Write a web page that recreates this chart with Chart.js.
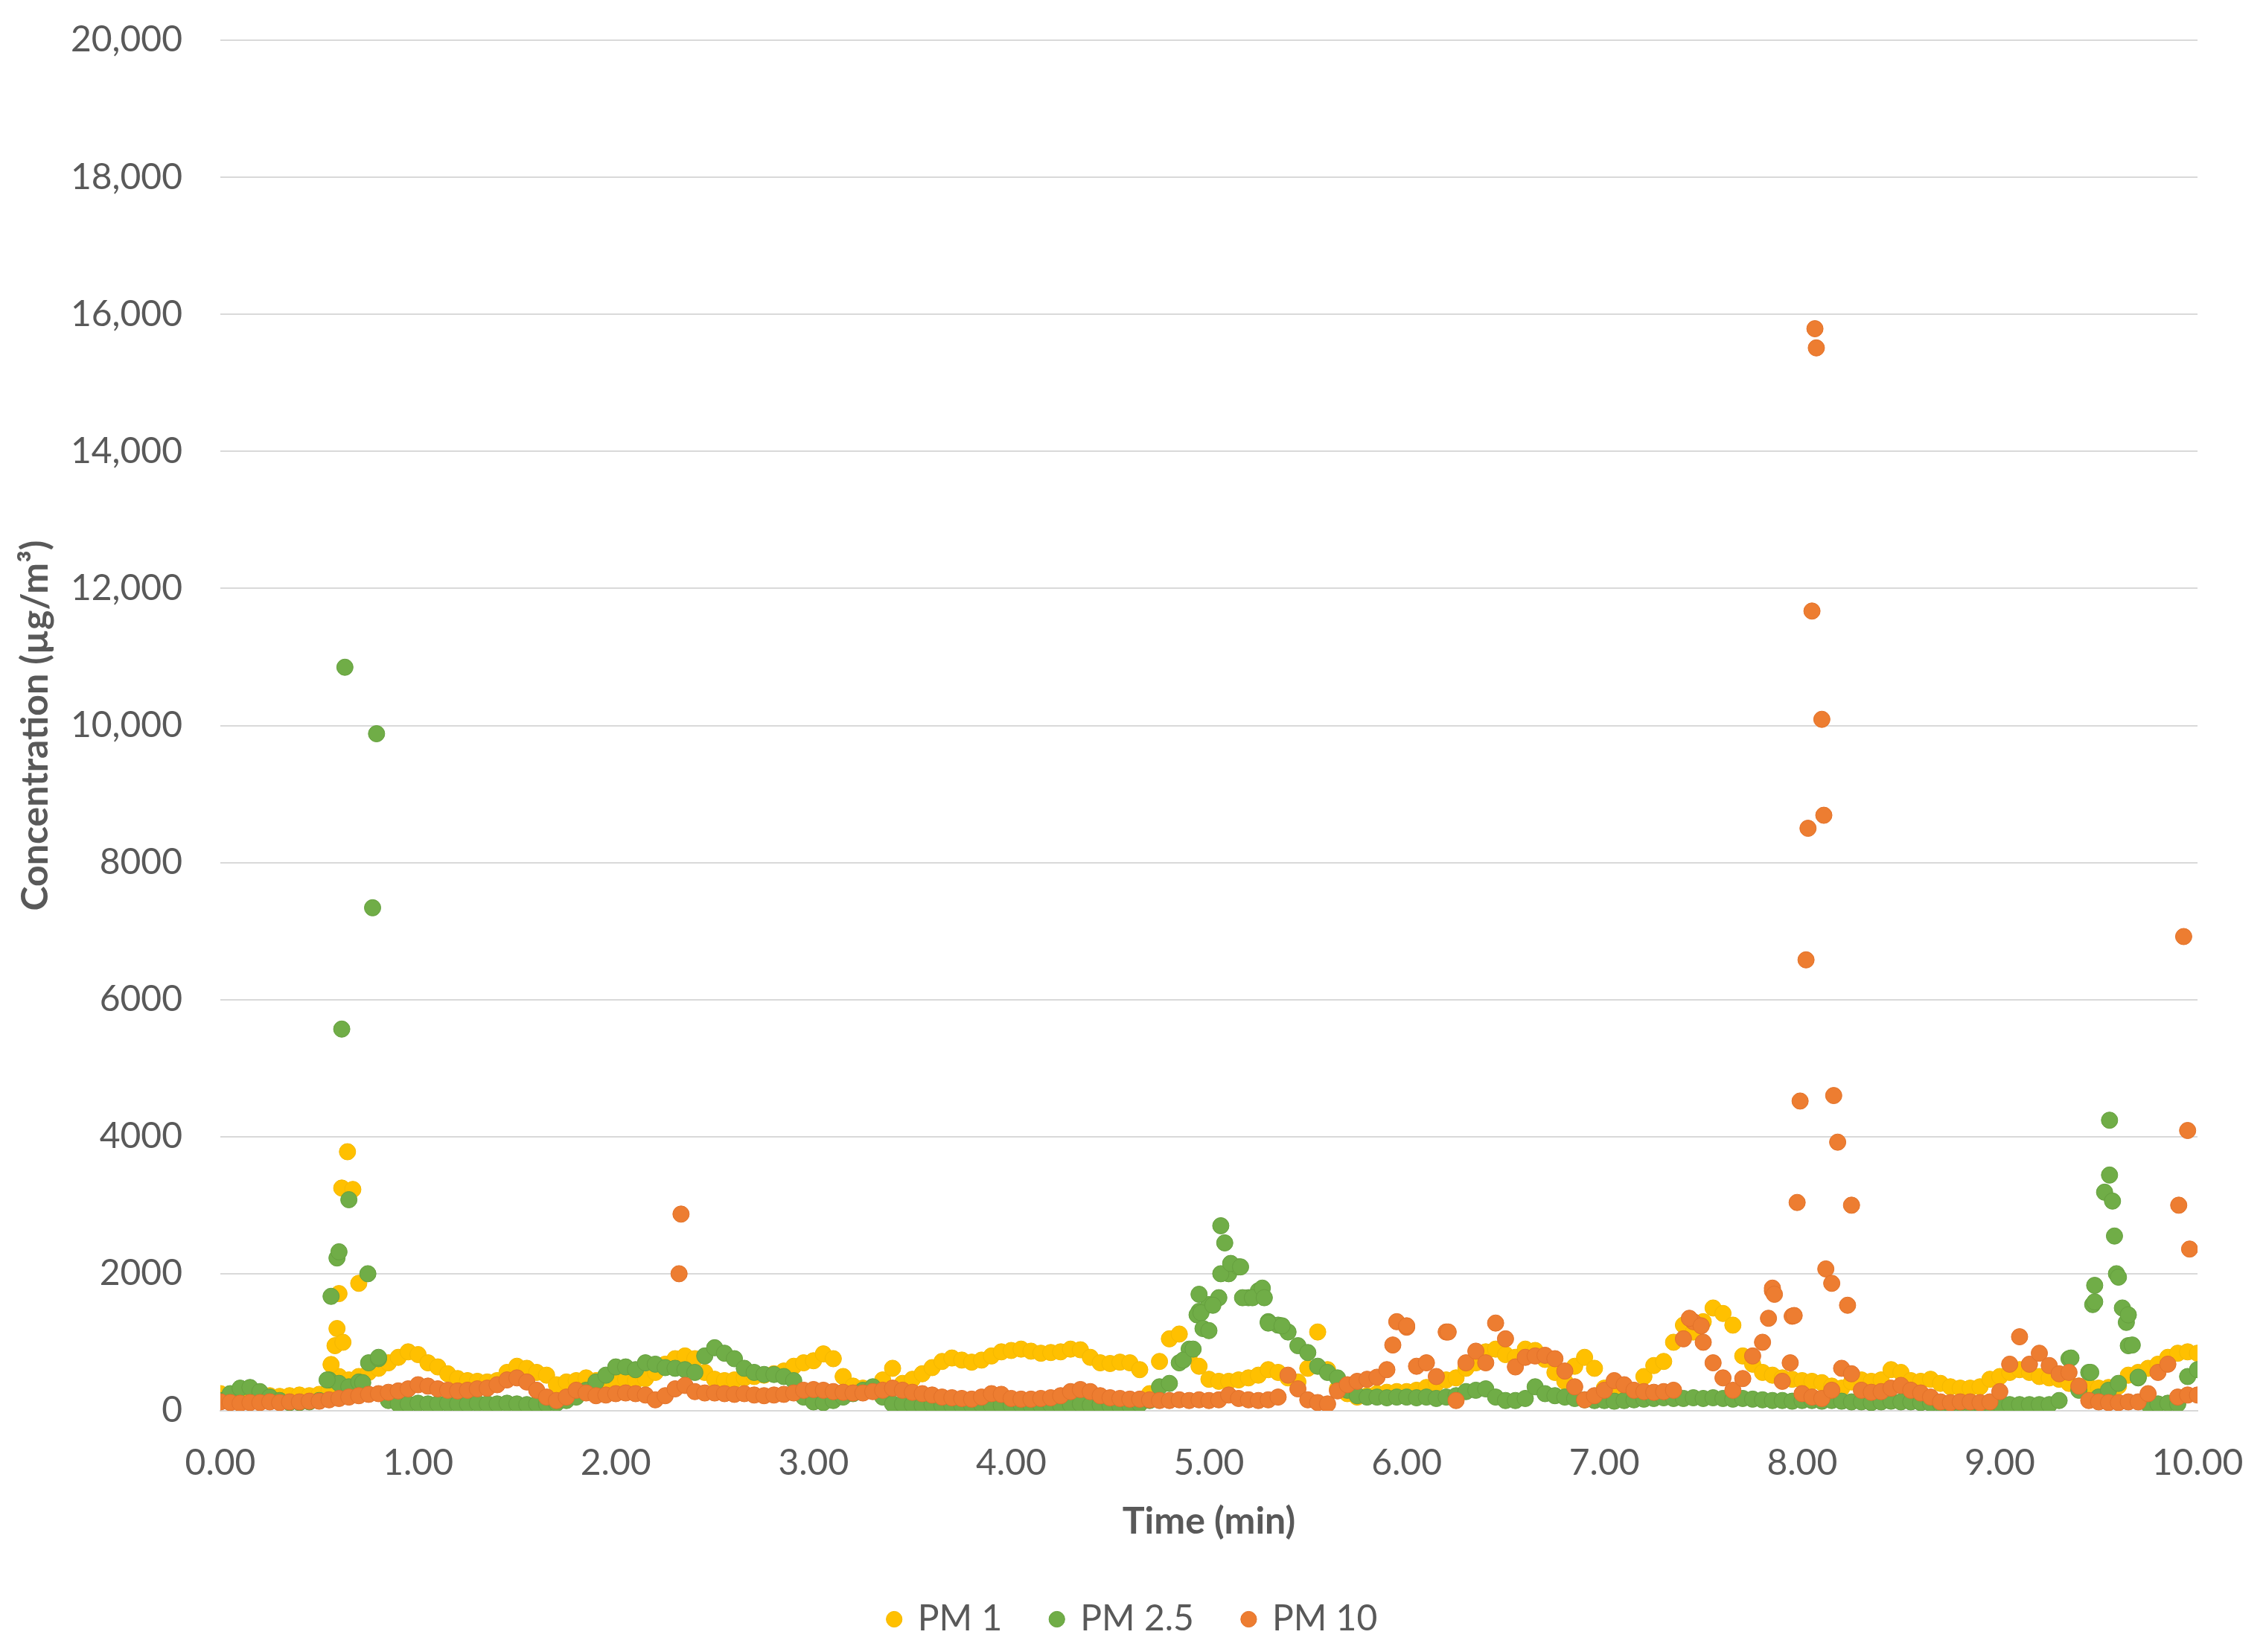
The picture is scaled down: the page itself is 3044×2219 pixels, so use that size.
<!DOCTYPE html>
<html>
<head>
<meta charset="utf-8">
<title>PM concentration</title>
<script src="https://cdn.jsdelivr.net/npm/chart.js@4.4.1/dist/chart.umd.min.js"></script>
<style>
    html, body { margin: 0; padding: 0; background: #ffffff; }
    canvas { display: block; }
</style>
</head>
<body>
<canvas id="pmChart" width="3044" height="2219"></canvas>
<script>
"use strict";

//Tidsaxel (min), ett mätvärde var 0.05 min
const timeMin = [
    0, 0.05, 0.1, 0.15, 0.2, 0.25, 0.3, 0.35, 0.4, 0.45, 0.5, 0.55, 0.6, 0.65, 0.7, 0.75, 0.8, 0.85, 0.9, 0.95,
    1, 1.05, 1.1, 1.15, 1.2, 1.25, 1.3, 1.35, 1.4, 1.45, 1.5, 1.55, 1.6, 1.65, 1.7, 1.75, 1.8, 1.85, 1.9, 1.95,
    2, 2.05, 2.1, 2.15, 2.2, 2.25, 2.3, 2.35, 2.4, 2.45, 2.5, 2.55, 2.6, 2.65, 2.7, 2.75, 2.8, 2.85, 2.9, 2.95,
    3, 3.05, 3.1, 3.15, 3.2, 3.25, 3.3, 3.35, 3.4, 3.45, 3.5, 3.55, 3.6, 3.65, 3.7, 3.75, 3.8, 3.85, 3.9, 3.95,
    4, 4.05, 4.1, 4.15, 4.2, 4.25, 4.3, 4.35, 4.4, 4.45, 4.5, 4.55, 4.6, 4.65, 4.7, 4.75, 4.8, 4.85, 4.9, 4.95,
    5, 5.05, 5.1, 5.15, 5.2, 5.25, 5.3, 5.35, 5.4, 5.45, 5.5, 5.55, 5.6, 5.65, 5.7, 5.75, 5.8, 5.85, 5.9, 5.95,
    6, 6.05, 6.1, 6.15, 6.2, 6.25, 6.3, 6.35, 6.4, 6.45, 6.5, 6.55, 6.6, 6.65, 6.7, 6.75, 6.8, 6.85, 6.9, 6.95,
    7, 7.05, 7.1, 7.15, 7.2, 7.25, 7.3, 7.35, 7.4, 7.45, 7.5, 7.55, 7.6, 7.65, 7.7, 7.75, 7.8, 7.85, 7.9, 7.95,
    8, 8.05, 8.1, 8.15, 8.2, 8.25, 8.3, 8.35, 8.4, 8.45, 8.5, 8.55, 8.6, 8.65, 8.7, 8.75, 8.8, 8.85, 8.9, 8.95,
    9, 9.05, 9.1, 9.15, 9.2, 9.25, 9.3, 9.35, 9.4, 9.45, 9.5, 9.55, 9.6, 9.65, 9.7, 9.75, 9.8, 9.85, 9.9, 9.95,
    10
];

//PM 1 (µg/m3)
const pm1Values = [
    250, 220, 200, 210, 230, 220, 210, 220, 230, 220, 240, 300, 500, 450, 500, 560, 620, 700, 780, 860,
    820, 700, 640, 540, 470, 440, 430, 420, 440, 560, 650, 620, 560, 520, 380, 420, 440, 480, 440, 430,
    440, 460, 440, 470, 560, 680, 760, 800, 760, 560, 460, 440, 450, 480, 500, 520, 540, 580, 650, 700,
    730, 830, 760, 500, 360, 330, 330, 450, 620, 400, 460, 540, 630, 720, 770, 740, 710, 740, 800, 860,
    880, 900, 870, 840, 850, 860, 900, 890, 780, 700, 690, 710, 700, 600, 250, 720, 1050, 1120, 800, 650,
    460, 430, 430, 450, 480, 520, 600, 560, 480, 420, 620, 1150, 600, 320, 250, 200, 220, 250, 270, 280,
    280, 300, 340, 400, 450, 480, 620, 700, 860, 900, 820, 780, 900, 880, 750, 560, 430, 650, 780, 620,
    330, 270, 260, 270, 500, 660, 720, 1000, 1250, 1150, 1300, 1500, 1420, 1250, 800, 680, 560, 520, 480, 460,
    440, 430, 410, 360, 330, 420, 450, 430, 450, 600, 560, 440, 430, 460, 400, 350, 330, 330, 350, 460,
    500, 560, 600, 560, 500, 480, 460, 400, 360, 350, 330, 340, 360, 520, 560, 620, 680, 780, 840, 860,
    840
];

//PM 2.5 (µg/m3)
const pm25Values = [
    150, 250, 330, 340, 280, 200, 150, 120, 120, 130, 150, 450, 400, 350, 420, 700, 760, 150, 100, 100,
    110, 100, 100, 110, 100, 100, 110, 100, 100, 110, 100, 90, 100, 100, 110, 150, 200, 300, 420, 520,
    640, 640, 600, 700, 680, 630, 620, 600, 560, 800, 920, 840, 760, 620, 560, 530, 530, 500, 440, 200,
    130, 120, 150, 200, 250, 300, 350, 200, 100, 100, 90, 80, 90, 80, 80, 80, 80, 90, 80, 80,
    80, 90, 80, 80, 90, 80, 90, 100, 80, 90, 80, 70, 80, 100, 150, 350, 400, 700, 900, 1450,
    1550, 1650, 2000, 2100, 1650, 1750, 1300, 1250, 1150, 950, 850, 650, 560, 480, 300, 220, 200, 200, 190, 200,
    200, 190, 200, 180, 200, 220, 280, 300, 320, 200, 150, 150, 180, 350, 250, 220, 200, 180, 160, 150,
    150, 140, 150, 160, 170, 180, 190, 180, 180, 190, 180, 190, 180, 170, 180, 170, 160, 150, 150, 140,
    150, 150, 140, 150, 140, 130, 130, 120, 130, 140, 130, 130, 120, 110, 100, 100, 110, 100, 100, 100,
    90, 90, 90, 90, 90, 90, 150, 760, 300, 560, 200, 300, 400, 950, 480, 100, 100, 110, 100, 500,
    600
];

//PM 10 (µg/m3)
const pm10Values = [
    130, 120, 110, 120, 120, 130, 120, 130, 130, 140, 140, 160, 180, 200, 220, 240, 250, 270, 290, 320,
    380, 360, 320, 300, 290, 300, 320, 330, 380, 450, 480, 420, 300, 200, 150, 200, 300, 260, 220, 230,
    250, 260, 250, 230, 160, 220, 320, 370, 280, 260, 260, 250, 240, 250, 230, 220, 230, 240, 260, 300,
    310, 300, 280, 270, 260, 260, 280, 300, 330, 300, 270, 250, 230, 200, 190, 180, 170, 200, 250, 240,
    180, 170, 170, 180, 190, 220, 280, 310, 280, 220, 190, 180, 170, 170, 160, 150, 150, 160, 150, 160,
    150, 160, 230, 180, 160, 150, 160, 200, 520, 320, 160, 120, 100, 290, 380, 430, 460, 490, 600, 1300,
    1220, 650, 700, 500, 1150, 150, 700, 870, 700, 1280, 1050, 640, 780, 800, 810, 760, 580, 350, 160, 220,
    300, 440, 380, 300, 280, 270, 280, 300, 1050, 1300, 1000, 700, 480, 300, 470, 800, 1000, 1750, 430, 1380,
    250, 200, 180, 300, 620, 540, 300, 270, 280, 330, 370, 300, 260, 200, 130, 120, 130, 130, 120, 130,
    280, 680, 1080, 680, 840, 660, 540, 560, 360, 150, 130, 120, 120, 130, 130, 250, 560, 680, 200, 230,
    230
];

//Toppar mellan mätpunkterna
const pm1PeakTimes = [0.56, 0.58, 0.59, 0.6, 0.614, 0.643, 0.67, 0.7, 0.62];
const pm1PeakValues = [675, 950, 1200, 1710, 3250, 3780, 3230, 1860, 1000];

const pm25PeakTimes = [
    0.54, 0.56, 0.59, 0.6, 0.614, 0.63, 0.65, 0.72, 0.746, 0.77, 0.79, 0.8,
    4.87, 4.92, 4.94, 4.95, 4.96, 4.97, 5.0, 5.02, 5.06, 5.06, 5.08, 5.11, 5.16, 5.17, 5.22, 5.27, 5.28, 5.3, 5.37,
    9.36, 9.46, 9.47, 9.48, 9.48, 9.53, 9.555, 9.555, 9.57, 9.58, 9.59, 9.6, 9.62, 9.64, 9.65, 9.67, 9.7
];
const pm25PeakValues = [
    450, 1670, 2230, 2320, 5570, 10850, 3080, 410, 2000, 7340, 9880, 780,
    740, 900, 1400, 1700, 1430, 1200, 1170, 1540, 2700, 2000, 2450, 2150, 2100, 1650, 1650, 1790, 1650, 1280, 1240,
    770, 560, 1550, 1830, 1590, 3190, 4240, 3440, 3060, 2550, 2000, 1950, 1500, 1290, 1400, 960, 490
];

const pm10PeakTimes = [
    2.32, 2.33, 5.93, 6.0, 6.21, 7.43, 7.49, 7.83, 7.85, 7.86, 7.94, 7.96, 7.975, 7.99, 8.02, 8.03,
    8.05, 8.065, 8.072, 8.1, 8.11, 8.12, 8.15, 8.16, 8.18, 8.23, 8.25, 9.905, 9.93, 9.95, 9.96
];
const pm10PeakValues = [
    2000, 2870, 960, 1240, 1150, 1350, 1240, 1350, 1790, 1700, 700, 1390, 3040, 4520, 6580, 8500,
    11670, 15790, 15510, 10090, 8690, 2070, 1860, 4600, 3920, 1540, 3000, 3000, 6920, 4090, 2360
];

//Axeletiketter
const xTickLabels = ["0.00", "1.00", "2.00", "3.00", "4.00", "5.00", "6.00", "7.00", "8.00", "9.00", "10.00"];
const yTickLabels = ["0", "2000", "4000", "6000", "8000", "10,000", "12,000", "14,000", "16,000", "18,000", "20,000"];

const textColor = "#595959";
const gridColor = "#d9d9d9";

/**
 * Slår ihop mätserie och toppar till punkter {x, y}
 * @param {Array} values
 * @param {Array} peakTimes
 * @param {Array} peakValues
 * @returns {Array}
 */
function toPoints(values, peakTimes, peakValues){
    let points = timeMin.map((t, i) => ({ x: t, y: values[i] }));
    peakTimes.forEach((t, i) => points.push({ x: t, y: peakValues[i] }));
    return points;
}

Chart.defaults.font.family = "Lato, 'Open Sans', sans-serif";
Chart.defaults.color = textColor;

const ctx = document.getElementById("pmChart");
new Chart(ctx, {
    type: "scatter",
    data: {
        datasets: [
            {
                label: "PM 1",
                data: toPoints(pm1Values, pm1PeakTimes, pm1PeakValues),
                backgroundColor: "#ffc000",
                borderColor: "#f5b800",
                borderWidth: 1,
                pointRadius: 11,
                order: 3
            },
            {
                label: "PM 2.5",
                data: toPoints(pm25Values, pm25PeakTimes, pm25PeakValues),
                backgroundColor: "#70ad47",
                borderColor: "#66a03f",
                borderWidth: 1,
                pointRadius: 11,
                order: 2
            },
            {
                label: "PM 10",
                data: toPoints(pm10Values, pm10PeakTimes, pm10PeakValues),
                backgroundColor: "#ed7d31",
                borderColor: "#e2722a",
                borderWidth: 1,
                pointRadius: 11,
                order: 1
            }
        ]
    },
    options: {
        responsive: false,
        animation: false,
        devicePixelRatio: 1,
        events: [],
        layout: {
            padding: { top: 54, right: 0, bottom: 10, left: 0 }
        },
        scales: {
            x: {
                type: "linear",
                min: 0,
                max: 10,
                afterFit: (scale) => { scale.height = 190; },
                ticks: {
                    stepSize: 1,
                    padding: 2,
                    font: { size: 48 },
                    color: textColor,
                    maxRotation: 0,
                    callback: (value, index) => xTickLabels[index]
                },
                //osynliga tickstreck ger avståndet till etiketterna
                grid: { display: false, drawTicks: true, tickLength: 40, tickColor: "rgba(0,0,0,0)" },
                border: { display: true, color: gridColor, width: 2 },
                title: {
                    display: true,
                    text: "Time (min)",
                    font: { size: 50, weight: "bold" },
                    color: textColor,
                    padding: { top: 6, bottom: 11 }
                }
            },
            y: {
                min: 0,
                max: 20000,
                afterFit: (scale) => { scale.width = 296; },
                ticks: {
                    stepSize: 2000,
                    padding: 0,
                    font: { size: 48 },
                    color: textColor,
                    callback: (value, index) => yTickLabels[index]
                },
                grid: { color: gridColor, lineWidth: 2, drawTicks: true, tickLength: 51, tickColor: "rgba(0,0,0,0)" },
                border: { display: false },
                title: {
                    display: true,
                    text: "Concentration (µg/m³)",
                    font: { size: 50, weight: "bold" },
                    color: textColor,
                    padding: { top: 18, bottom: 0 }
                }
            },
            //tom axel till höger, håller marginalen så att legenden hamnar i mitten
            spacer: {
                position: "right",
                min: 0,
                max: 1,
                afterFit: (scale) => { scale.width = 92; },
                ticks: { display: false },
                grid: { display: false, drawTicks: false },
                border: { display: false }
            }
        },
        plugins: {
            legend: {
                position: "bottom",
                labels: {
                    usePointStyle: true,
                    pointStyle: "circle",
                    boxWidth: 15,
                    boxHeight: 15,
                    padding: 66,
                    font: { size: 48 },
                    color: textColor,
                    sort: (a, b) => a.datasetIndex - b.datasetIndex
                }
            },
            tooltip: { enabled: false }
        }
    }
});
</script>
</body>
</html>
